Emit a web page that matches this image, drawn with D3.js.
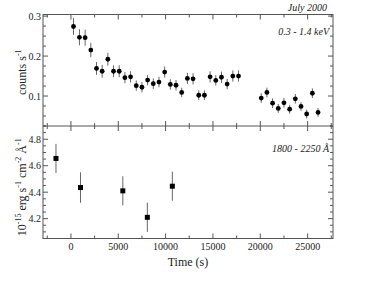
<!DOCTYPE html>
<html>
<head>
<meta charset="utf-8">
<script src="https://cdn.jsdelivr.net/npm/d3@7"></script>
<style>
  body { margin: 0; background: #fff; }
  text { font-family: "Liberation Serif", "DejaVu Serif", serif; fill: #222; }
</style>
</head>
<body>
<div id="chart"></div>
<script>
// x-ray light curve (0.3 - 1.4 keV)
const xrayTime = [270, 900, 1500, 2100, 2700, 3300, 3900, 4500, 5100, 5700, 6300, 6900, 7500, 8100,
  8700, 9300, 9900, 10500, 11100, 11700, 12300, 12900, 13500, 14100, 14700, 15300, 15900, 16500,
  17100, 17700, 20100, 20700, 21300, 21900, 22500, 23100, 23700, 24300, 24900, 25500, 26100];
const xrayRate = [0.274, 0.247, 0.246, 0.215, 0.169, 0.162, 0.192, 0.162, 0.162, 0.146, 0.148, 0.126,
  0.122, 0.140, 0.131, 0.135, 0.160, 0.129, 0.127, 0.109, 0.144, 0.143, 0.102, 0.102, 0.148, 0.139,
  0.147, 0.130, 0.150, 0.150, 0.095, 0.109, 0.082, 0.069, 0.083, 0.067, 0.093, 0.074, 0.055, 0.107, 0.059];
const xrayErr = [0.021, 0.02, 0.02, 0.018, 0.016, 0.016, 0.016, 0.015, 0.015, 0.014, 0.014, 0.013,
  0.013, 0.013, 0.013, 0.013, 0.014, 0.013, 0.013, 0.012, 0.014, 0.014, 0.012, 0.012, 0.014, 0.013,
  0.014, 0.013, 0.014, 0.014, 0.012, 0.012, 0.012, 0.011, 0.012, 0.011, 0.012, 0.011, 0.011, 0.012, 0.011];

// UV flux (1800 - 2250 A)
const uvTime = [-1580, 1010, 5480, 8070, 10710];
const uvFlux = [4.655, 4.435, 4.41, 4.21, 4.445];
const uvErr = [0.11, 0.115, 0.11, 0.11, 0.11];

const xMajor = [0, 5000, 10000, 15000, 20000, 25000];
const xMinor = [-2500, 2500, 7500, 12500, 17500, 22500, 27500];
const topMajor = [0.1, 0.2, 0.3];
const topMinor = [0.025, 0.05, 0.075, 0.125, 0.15, 0.175, 0.225, 0.25, 0.275];
const botMajor = [4.2, 4.4, 4.6, 4.8];
const botMinor = [4.05, 4.1, 4.15, 4.25, 4.3, 4.35, 4.45, 4.5, 4.55, 4.65, 4.7, 4.75, 4.85, 4.9];

const W = 365, H = 282;
const pLeft = 43, pRight = 333, pTop = 14.5, pMid = 126, pBottom = 238.5;
const axisColor = '#555';

const svg = d3.select('#chart').append('svg')
  .attr('width', W).attr('height', H);

const x = d3.scaleLinear().domain([-2950, 27680]).range([pLeft, pRight]);
const yTop = d3.scaleLinear().domain([0.025, 0.304]).range([pMid, pTop]);
const yBot = d3.scaleLinear().domain([4.05, 4.9]).range([pBottom, pMid]);

// draw ticks pointing inward, no labels
function ticksX(y0, dir, both) {
  const g = svg.append('g').attr('stroke', axisColor).attr('stroke-width', 1);
  xMajor.forEach(v => {
    g.append('line').attr('x1', x(v)).attr('x2', x(v))
      .attr('y1', both ? y0 - 5 : y0).attr('y2', y0 + dir * 5);
  });
  xMinor.forEach(v => {
    g.append('line').attr('x1', x(v)).attr('x2', x(v))
      .attr('y1', both ? y0 - 3 : y0).attr('y2', y0 + dir * 3);
  });
}
function ticksY(scale, major, minor, x0, dir) {
  const g = svg.append('g').attr('stroke', axisColor).attr('stroke-width', 1);
  major.forEach(v => {
    g.append('line').attr('y1', scale(v)).attr('y2', scale(v)).attr('x1', x0).attr('x2', x0 + dir * 5);
  });
  minor.forEach(v => {
    g.append('line').attr('y1', scale(v)).attr('y2', scale(v)).attr('x1', x0).attr('x2', x0 + dir * 3);
  });
}

// frames
svg.append('rect').attr('x', pLeft).attr('y', pTop)
  .attr('width', pRight - pLeft).attr('height', pBottom - pTop)
  .attr('fill', 'none').attr('stroke', axisColor).attr('stroke-width', 1);
svg.append('line').attr('x1', pLeft).attr('x2', pRight).attr('y1', pMid).attr('y2', pMid)
  .attr('stroke', axisColor).attr('stroke-width', 1);

ticksX(pTop, 1, false);
ticksX(pMid, 1, true);
ticksX(pBottom, -1, false);
ticksY(yTop, topMajor, topMinor, pLeft, 1);
ticksY(yTop, topMajor, topMinor, pRight, -1);
ticksY(yBot, botMajor, botMinor, pLeft, 1);
ticksY(yBot, botMajor, botMinor, pRight, -1);

// tick labels
svg.append('g').selectAll('text').data(topMajor).join('text')
  .attr('x', pLeft - 2).attr('y', d => yTop(d) + 3.5)
  .attr('text-anchor', 'end').attr('font-size', 10).text(d => d3.format('.1f')(d));
svg.append('g').selectAll('text').data(botMajor).join('text')
  .attr('x', pLeft - 2).attr('y', d => yBot(d) + 3.5)
  .attr('text-anchor', 'end').attr('font-size', 10).text(d => d3.format('.1f')(d));
svg.append('g').selectAll('text').data(xMajor).join('text')
  .attr('x', d => x(d)).attr('y', pBottom + 11)
  .attr('text-anchor', 'middle').attr('font-size', 10).text(d => d);

// axis titles
svg.append('text').attr('x', 188).attr('y', 266).attr('text-anchor', 'middle')
  .attr('font-size', 12).text('Time  (s)');

const yl1 = svg.append('text').attr('transform', `translate(26,${(pTop + pMid) / 2 + 2}) rotate(-90)`)
  .attr('text-anchor', 'middle').attr('font-size', 12);
yl1.append('tspan').text('counts  s');
yl1.append('tspan').attr('font-size', 8).attr('dy', -5).text('-1');

const yl2 = svg.append('text').attr('transform', `translate(26,${(pMid + pBottom) / 2 + 5}) rotate(-90)`)
  .attr('text-anchor', 'middle').attr('font-size', 12);
yl2.append('tspan').text('10');
yl2.append('tspan').attr('font-size', 8).attr('dy', -5).text('-15');
yl2.append('tspan').attr('dy', 5).text(' erg s');
yl2.append('tspan').attr('font-size', 8).attr('dy', -5).text('-1');
yl2.append('tspan').attr('dy', 5).text(' cm');
yl2.append('tspan').attr('font-size', 8).attr('dy', -5).text('-2');
yl2.append('tspan').attr('dy', 5).text(' Å');
yl2.append('tspan').attr('font-size', 8).attr('dy', -5).text('-1');

// panel annotations
svg.append('text').attr('x', 327).attr('y', 11).attr('text-anchor', 'end')
  .attr('font-size', 10).attr('font-style', 'italic').text('July  2000');
svg.append('text').attr('x', 329).attr('y', 35).attr('text-anchor', 'end')
  .attr('font-size', 10).attr('font-style', 'italic').text('0.3 - 1.4  keV');
svg.append('text').attr('x', 329).attr('y', 152).attr('text-anchor', 'end')
  .attr('font-size', 10).attr('font-style', 'italic').text('1800 - 2250  Å');

// x-ray points
const gx = svg.append('g');
gx.selectAll('line').data(xrayTime).join('line')
  .attr('x1', d => x(d)).attr('x2', d => x(d))
  .attr('y1', (d, i) => yTop(xrayRate[i] - xrayErr[i]))
  .attr('y2', (d, i) => yTop(xrayRate[i] + xrayErr[i]))
  .attr('stroke', '#666').attr('stroke-width', 1);
gx.selectAll('circle').data(xrayTime).join('circle')
  .attr('cx', d => x(d)).attr('cy', (d, i) => yTop(xrayRate[i]))
  .attr('r', 2.4).attr('fill', '#000');

// UV points
const gu = svg.append('g');
gu.selectAll('line').data(uvTime).join('line')
  .attr('x1', d => x(d)).attr('x2', d => x(d))
  .attr('y1', (d, i) => yBot(uvFlux[i] - uvErr[i]))
  .attr('y2', (d, i) => yBot(uvFlux[i] + uvErr[i]))
  .attr('stroke', '#666').attr('stroke-width', 1);
gu.selectAll('rect').data(uvTime).join('rect')
  .attr('x', d => x(d) - 2.5).attr('y', (d, i) => yBot(uvFlux[i]) - 2.5)
  .attr('width', 5).attr('height', 5).attr('fill', '#000');
</script>
</body>
</html>
